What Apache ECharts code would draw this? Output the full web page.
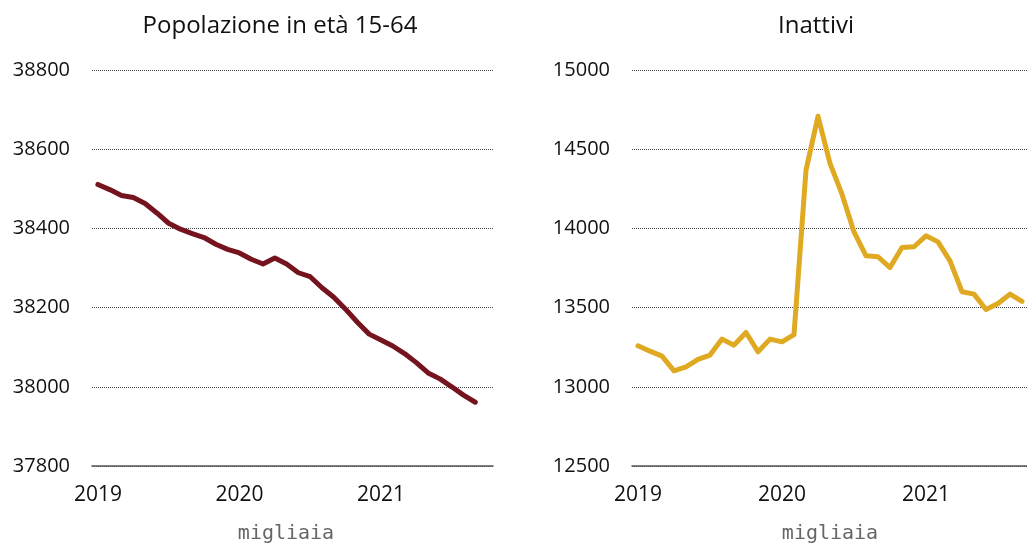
<!DOCTYPE html>
<html>
<head>
<meta charset="utf-8">
<script src="https://cdn.jsdelivr.net/npm/echarts@6/dist/echarts.min.js"></script>
<style>
  html, body { margin: 0; padding: 0; background: #fff; }
  #main { width: 1027px; height: 547px; }
</style>
</head>
<body>
<div id="main"></div>
<script>
// mesi (gen 2019 - ott 2021), l'ultimo senza dato
var months = [
  '2019-01', '2019-02', '2019-03', '2019-04', '2019-05', '2019-06',
  '2019-07', '2019-08', '2019-09', '2019-10', '2019-11', '2019-12',
  '2020-01', '2020-02', '2020-03', '2020-04', '2020-05', '2020-06',
  '2020-07', '2020-08', '2020-09', '2020-10', '2020-11', '2020-12',
  '2021-01', '2021-02', '2021-03', '2021-04', '2021-05', '2021-06',
  '2021-07', '2021-08', '2021-09', '2021-10'
];

// Popolazione in età 15-64 (migliaia)
var popolazione = [
  38511, 38498, 38483, 38478, 38463, 38439, 38413, 38398, 38387, 38377, 38360, 38347,
  38338, 38322, 38310, 38325, 38310, 38288, 38278, 38250, 38226, 38196, 38163, 38133,
  38118, 38103, 38084, 38061, 38035, 38020, 38000, 37979, 37961
];

// Inattivi (migliaia)
var inattivi = [
  13259, 13225, 13194, 13101, 13126, 13173, 13200, 13301, 13263, 13343, 13221, 13301,
  13284, 13330, 14368, 14708, 14410, 14216, 13978, 13827, 13821, 13753, 13879, 13884,
  13953, 13915, 13795, 13600, 13585, 13488, 13526, 13585, 13539
];

var titles = ['Popolazione in età 15-64', 'Inattivi'];
var unit = 'migliaia';

var myChart = echarts.init(document.getElementById('main'));

var labelFont = '"Open Sans", "Noto Sans", sans-serif';

function xAxisFor(gridIndex) {
  return {
    type: 'category',
    gridIndex: gridIndex,
    data: months,
    boundaryGap: true,
    axisLine: { show: true, lineStyle: { color: '#555', width: 1.5 } },
    axisTick: { show: false },
    axisLabel: {
      interval: function (i) { return i % 12 === 0; },
      formatter: function (v) { return v.slice(0, 4); },
      color: '#111',
      fontFamily: labelFont,
      fontSize: 21,
      margin: 19
    },
    splitLine: { show: false }
  };
}

function yAxisFor(gridIndex, min, max, interval) {
  return {
    type: 'value',
    gridIndex: gridIndex,
    min: min,
    max: max,
    interval: interval,
    axisLine: { show: false },
    axisTick: { show: false },
    axisLabel: {
      color: '#111',
      fontFamily: labelFont,
      fontSize: 20,
      margin: 22,
      formatter: function (v) { return String(v); }
    },
    splitLine: { show: true, lineStyle: { color: '#444', type: [1, 1], width: 1 } }
  };
}

myChart.setOption({
  animation: false,
  title: [
    {
      text: titles[0], left: 275, top: 9, textAlign: 'center',
      textStyle: { fontFamily: labelFont, fontWeight: 'normal', fontSize: 24, color: '#111' }
    },
    {
      text: titles[1], left: 811, top: 9, textAlign: 'center',
      textStyle: { fontFamily: labelFont, fontWeight: 'normal', fontSize: 24, color: '#111' }
    },
    {
      text: unit, left: 281, top: 519, textAlign: 'center',
      textStyle: { fontFamily: '"DejaVu Sans Mono", monospace', fontWeight: 'normal', fontSize: 20, color: '#666' }
    },
    {
      text: unit, left: 825, top: 519, textAlign: 'center',
      textStyle: { fontFamily: '"DejaVu Sans Mono", monospace', fontWeight: 'normal', fontSize: 20, color: '#666' }
    }
  ],
  grid: [
    { left: 92, top: 70, width: 401, height: 396, outerBoundsMode: 'none' },
    { left: 632, top: 70, width: 408, height: 396, outerBoundsMode: 'none' }
  ],
  xAxis: [xAxisFor(0), xAxisFor(1)],
  yAxis: [
    yAxisFor(0, 37800, 38800, 200),
    yAxisFor(1, 12500, 15000, 500)
  ],
  series: [
    {
      name: titles[0],
      type: 'line',
      xAxisIndex: 0,
      yAxisIndex: 0,
      data: popolazione,
      showSymbol: false,
      lineStyle: { color: '#75141E', width: 5, cap: 'round', join: 'round' },
      itemStyle: { color: '#75141E' }
    },
    {
      name: titles[1],
      type: 'line',
      xAxisIndex: 1,
      yAxisIndex: 1,
      data: inattivi,
      showSymbol: false,
      lineStyle: { color: '#DFAA22', width: 5, cap: 'round', join: 'round' },
      itemStyle: { color: '#DFAA22' }
    }
  ]
});
</script>
</body>
</html>
